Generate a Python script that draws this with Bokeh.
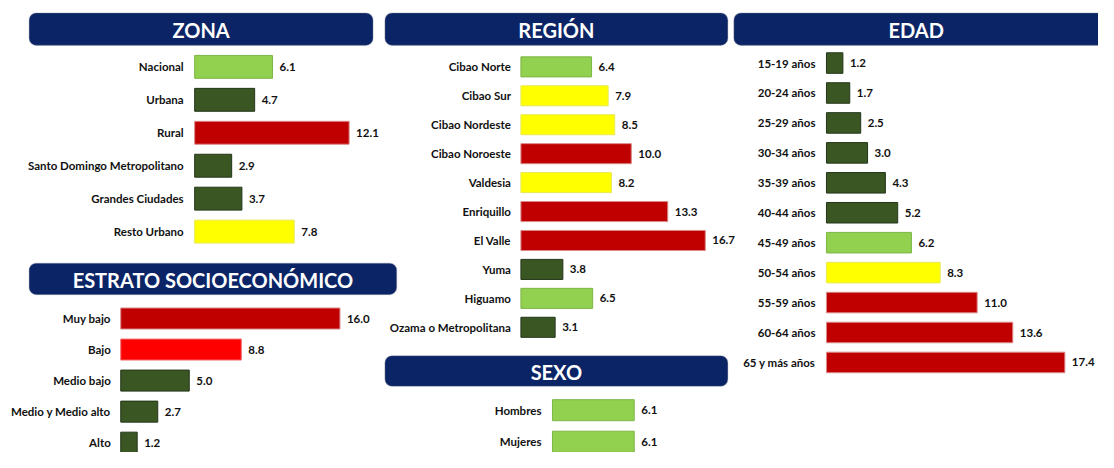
from bokeh.plotting import figure
from bokeh.models import Range1d, ColumnDataSource, BoxAnnotation, Label
from bokeh.core.properties import value
from bokeh.embed import file_html
from bokeh.resources import INLINE

# ---------------- data ----------------
zona_cats = ["Nacional", "Urbana", "Rural", "Santo Domingo Metropolitano", "Grandes Ciudades", "Resto Urbano"]
zona_vals = [6.1, 4.7, 12.1, 2.9, 3.7, 7.8]

estrato_cats = ["Muy bajo", "Bajo", "Medio bajo", "Medio y Medio alto", "Alto"]
estrato_vals = [16.0, 8.8, 5.0, 2.7, 1.2]

region_cats = ["Cibao Norte", "Cibao Sur", "Cibao Nordeste", "Cibao Noroeste", "Valdesia",
               "Enriquillo", "El Valle", "Yuma", "Higuamo", "Ozama o Metropolitana"]
region_vals = [6.4, 7.9, 8.5, 10.0, 8.2, 13.3, 16.7, 3.8, 6.5, 3.1]

sexo_cats = ["Hombres", "Mujeres"]
sexo_vals = [6.1, 6.1]

edad_cats = ["15-19 años", "20-24 años", "25-29 años", "30-34 años", "35-39 años", "40-44 años",
             "45-49 años", "50-54 años", "55-59 años", "60-64 años", "65 y más años"]
edad_vals = [1.2, 1.7, 2.5, 3.0, 4.3, 5.2, 6.2, 8.3, 11.0, 13.6, 17.4]

# colour classes per bar
zona_cls = ["lg", "dg", "dr", "dg", "dg", "y"]
estrato_cls = ["dr", "r", "dg", "dg", "dg"]
region_cls = ["lg", "y", "y", "dr", "y", "dr", "dr", "dg", "lg", "dg"]
sexo_cls = ["lg", "lg"]
edad_cls = ["dg", "dg", "dg", "dg", "dg", "dg", "lg", "y", "dr", "dr", "dr"]

FILL = {"lg": "#92D050", "dg": "#3A5623", "dr": "#C00000", "r": "#FF0000", "y": "#FFFF00"}
LINE = {"lg": "#7DB546", "dg": "#24361A", "dr": "#D98A8A", "r": "#F07070", "y": "#E8E85A"}

# ---------------- layout ----------------
W, H = 1098, 452
SX, SY = W / 1114, 0.955   # layout scale from the 1114x468 design grid
FONT = "Lato"

p = figure(width=W, height=H, output_backend="svg", toolbar_location=None,
           x_axis_location=None, y_axis_location=None,
           x_range=Range1d(0, W), y_range=Range1d(H, 0),
           min_border=0, outline_line_color=None, tools="")
p.grid.visible = False
p.background_fill_color = "white"
p.border_fill_color = "white"

# header boxes (design-grid pixel coordinates)
headers = [
    ("ZONA", 29, 378, 13, 47, "20px"),
    ("ESTRATO SOCIOECONÓMICO", 29, 402, 275, 308, "20px"),
    ("REGIÓN", 390, 738, 13, 47, "20px"),
    ("SEXO", 390, 738, 372, 404, "20px"),
    ("EDAD", 744, 1130, 13, 47, "20px"),
]
for txt, l, r, t, b, fs in headers:
    p.add_layout(BoxAnnotation(left=l * SX, right=r * SX, top=t * SY, bottom=b * SY,
                               fill_color="#0B2465", fill_alpha=1.0,
                               line_color="#9AA0AA", line_width=1.2, border_radius=7,
                               level="underlay"))
    cx = (l + min(r, 1114)) / 2 * SX
    p.add_layout(Label(x=cx, y=(t + b) / 2 * SY + 1, text=txt, text_align="center",
                       text_baseline="middle", text_color="white", text_font=FONT,
                       text_font_style="bold", text_font_size=fs))

# panel geometry: bar start x, px per unit, first row centre y, row spacing, bar thickness px, label gap
panels = [
    ("zona", zona_cats, zona_vals, zona_cls, 197, 12.95, 69.5, 34.5, 24, 11),
    ("estrato", estrato_cats, estrato_vals, estrato_cls, 122, 13.9, 333, 32.5, 22, 10),
    ("region", region_cats, region_vals, region_cls, 528, 11.2, 69.5, 30.3, 21, 10),
    ("sexo", sexo_cats, sexo_vals, sexo_cls, 560, 13.6, 429, 33.0, 22, 11),
    ("edad", edad_cats, edad_vals, edad_cls, 838, 13.9, 65.5, 31.35, 21.5, 11),
]

for name, cats, vals, cls, x0, ppu, yfirst, sp, bh, gap in panels:
    ppu_f = ppu * SX
    xs = -(x0 * SX) / ppu_f
    p.extra_x_ranges[name] = Range1d(xs, xs + W / ppu_f)
    sp_f = sp * SY
    ye = -(yfirst * SY) / sp_f
    p.extra_y_ranges[name] = Range1d(ye + H / sp_f, ye)
    src = ColumnDataSource(dict(
        y=list(range(len(cats))), v=vals, cat=cats,
        lbl=[f"{v:.1f}" for v in vals],
        zero=[0] * len(cats),
        fill=[FILL[c] for c in cls], line=[LINE[c] for c in cls],
    ))
    p.hbar(y="y", left=0, right="v", height=bh / sp, source=src,
           fill_color="fill", line_color="line", line_width=1,
           x_range_name=name, y_range_name=name)
    p.text(x="zero", y="y", text="cat", source=src, x_range_name=name, y_range_name=name,
           text_align="right", text_baseline="middle", x_offset=-gap,
           text_font=value(FONT), text_font_style="bold", text_font_size="11.5px",
           text_color="#111111")
    p.text(x="v", y="y", text="lbl", source=src, x_range_name=name, y_range_name=name,
           text_align="left", text_baseline="middle", x_offset=7,
           text_font=value(FONT), text_font_style="bold", text_font_size="11.5px",
           text_color="#111111")

open("out.html", "w").write(file_html(p, INLINE))
